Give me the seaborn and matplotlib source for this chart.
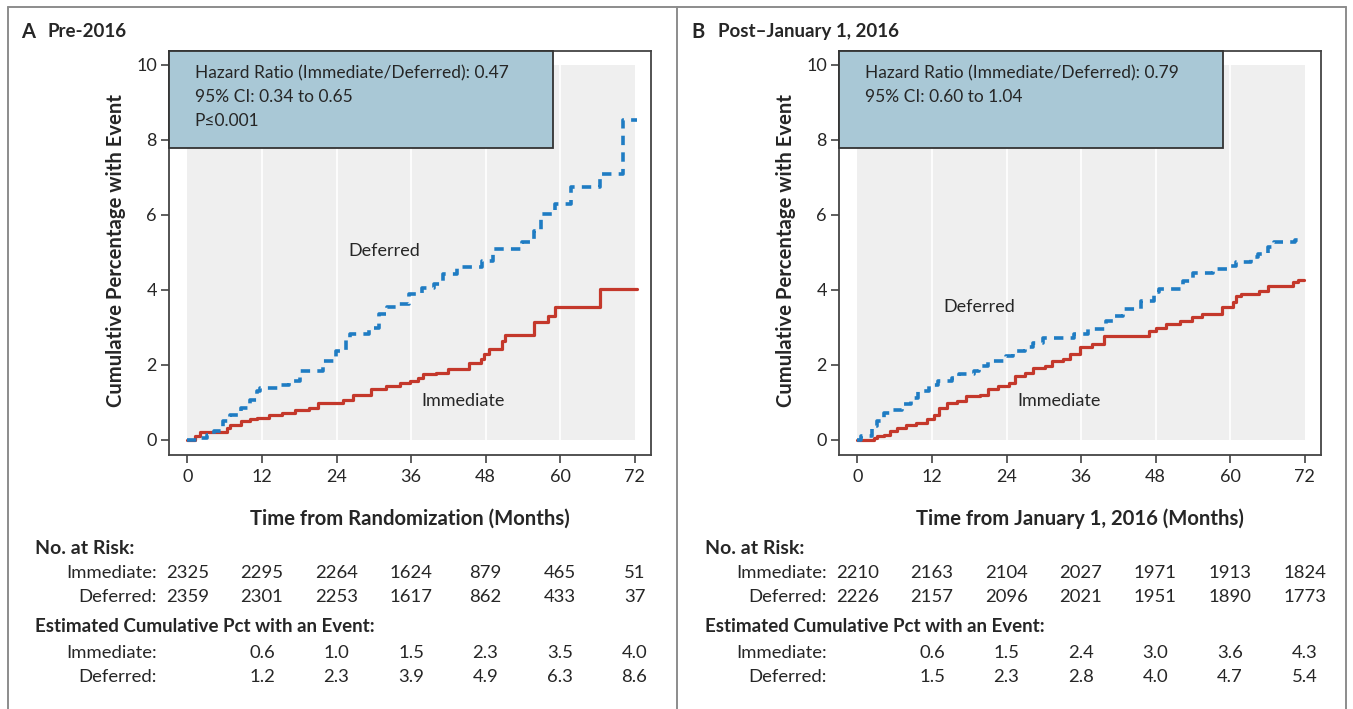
import numpy as np
import pandas as pd
import matplotlib
matplotlib.use("Agg")
import matplotlib.pyplot as plt
import seaborn as sns
from matplotlib.patches import Rectangle
from matplotlib.lines import Line2D
import matplotlib.transforms as mtrans

# ---------------- data ----------------
month_ticks = [0, 12, 24, 36, 48, 60, 72]

a_imm_t = [0, 1.2, 2.0, 6.3, 6.9, 8.6, 10.0, 11.2, 13.2, 15.2, 17.3, 19.5, 21.0, 25.0, 26.7,
           29.6, 31.9, 34.2, 35.9, 37.1, 38.0, 40.0, 42.0, 45.4, 47.2, 47.7, 48.6, 50.6, 51.2,
           55.8, 58.0, 59.2, 66.4, 72.4]
a_imm_v = [0, 0.1, 0.2, 0.3, 0.4, 0.5, 0.55, 0.58, 0.67, 0.71, 0.8, 0.85, 0.97, 1.07, 1.2,
           1.34, 1.43, 1.52, 1.56, 1.65, 1.74, 1.79, 1.88, 2.05, 2.14, 2.28, 2.41, 2.63, 2.79,
           3.13, 3.3, 3.53, 4.02, 4.02]

a_def_t = [0, 1.7, 3.2, 4.3, 5.75, 6.9, 8.6, 10.0, 11.2, 11.6, 14.9, 16.4, 18.1, 21.9, 23.9,
           25.6, 26.2, 29.3, 30.8, 32.2, 33.9, 35.7, 37.7, 39.7, 41.1, 43.4, 47.4, 49.2, 53.8,
           55.8, 56.9, 59.2, 61.8, 66.4, 70.2, 72.4]
a_def_v = [0, 0.05, 0.13, 0.22, 0.49, 0.67, 0.85, 1.07, 1.3, 1.38, 1.47, 1.56, 1.83, 2.1, 2.37,
           2.72, 2.81, 2.99, 3.35, 3.53, 3.62, 3.88, 4.06, 4.15, 4.42, 4.6, 4.78, 5.09, 5.27,
           5.58, 6.03, 6.29, 6.74, 7.1, 8.53, 8.53]

b_imm_t = [0, 2.6, 3.2, 4.3, 5.2, 6.3, 7.8, 9.5, 11.2, 12.4, 13.2, 14.4, 16.1, 17.5, 19.8,
           21.0, 22.7, 24.4, 25.3, 27.0, 28.2, 30.2, 31.3, 33.1, 34.2, 35.9, 37.7, 39.7, 46.9,
           48.0, 49.7, 52.0, 53.8, 55.5, 58.7, 60.4, 61.0, 61.8, 64.7, 66.1, 70.2, 71.0, 71.9]
b_imm_v = [0, 0.05, 0.09, 0.13, 0.22, 0.31, 0.4, 0.45, 0.54, 0.67, 0.85, 0.98, 1.03, 1.16, 1.2,
           1.34, 1.43, 1.52, 1.7, 1.79, 1.92, 1.96, 2.1, 2.14, 2.28, 2.46, 2.54, 2.77, 2.9,
           2.99, 3.08, 3.17, 3.26, 3.35, 3.53, 3.66, 3.84, 3.88, 3.97, 4.11, 4.2, 4.26, 4.26]

b_def_t = [0, 0.6, 2.3, 3.2, 4.3, 5.5, 7.2, 8.6, 9.8, 11.5, 12.9, 15.2, 16.4, 18.7, 19.5,
           21.0, 23.9, 25.0, 27.0, 28.2, 29.9, 34.8, 37.1, 40.0, 41.1, 42.8, 45.7, 47.7, 48.6,
           52.4, 54.1, 57.2, 60.1, 61.0, 63.3, 64.5, 66.1, 67.0, 70.5, 71.2]
b_def_v = [0, 0.09, 0.36, 0.49, 0.71, 0.8, 0.94, 1.12, 1.3, 1.47, 1.56, 1.65, 1.74, 1.83, 1.96,
           2.1, 2.23, 2.37, 2.46, 2.59, 2.72, 2.81, 2.95, 3.17, 3.3, 3.48, 3.71, 3.93, 4.02,
           4.24, 4.46, 4.55, 4.64, 4.73, 4.87, 4.96, 5.13, 5.27, 5.33, 5.33]

a_risk_imm = [2325, 2295, 2264, 1624, 879, 465, 51]
a_risk_def = [2359, 2301, 2253, 1617, 862, 433, 37]
a_pct_imm = ["0.6", "1.0", "1.5", "2.3", "3.5", "4.0"]
a_pct_def = ["1.2", "2.3", "3.9", "4.9", "6.3", "8.6"]

b_risk_imm = [2210, 2163, 2104, 2027, 1971, 1913, 1824]
b_risk_def = [2226, 2157, 2096, 2021, 1951, 1890, 1773]
b_pct_imm = ["0.6", "1.5", "2.4", "3.0", "3.6", "4.3"]
b_pct_def = ["1.5", "2.3", "2.8", "4.0", "4.7", "5.4"]

a_hr_lines = ["Hazard Ratio (Immediate/Deferred): 0.47", "95% CI: 0.34 to 0.65", "P\u22640.001"]
b_hr_lines = ["Hazard Ratio (Immediate/Deferred): 0.79", "95% CI: 0.60 to 1.04"]

a_title = ("A", "Pre-2016")
b_title = ("B", "Post\u2013January 1, 2016")
a_xlabel = "Time from Randomization (Months)"
b_xlabel = "Time from January 1, 2016 (Months)"
ylabel = "Cumulative Percentage with Event"

# ---------------- style ----------------
sns.set_theme(style="white")
plt.rcParams['font.family'] = ['Lato', 'DejaVu Sans']
TXT = '#262626'
BLUE = '#1f7cc3'
RED = '#c4382b'
W, H = 1353, 709
fig = plt.figure(figsize=(W / 100, H / 100), dpi=100)
fig.patch.set_facecolor('white')


def fx(px):
    return px / W


def fy(py):
    return 1 - py / H


FS_HR = 12.5
FS_TICK = 13
FS_LAB = 13
FS_TAB = 13.3
FS_AXLAB = 14.6
FS_HEAD = 14
FS_HEAD2 = 13.5

def panel(off, imm_t, imm_v, def_t, def_v, hr_lines, title, xlabel,
          risk_imm, risk_def, pct_imm, pct_def, def_lab, imm_lab):
    ax = fig.add_axes([fx(169.3 + off), fy(455), (650.7 - 169.3) / W, (455 - 50.7) / H])
    ax.set_xlim(-2.93, 74.6)
    ax.set_ylim(-0.41, 10.38)
    ax.set_facecolor('white')
    ax.add_patch(Rectangle((0, 0), 72, 10, facecolor='#efefef', edgecolor='none', zorder=0))
    ax.vlines(month_ticks[1:-1], 0, 10, color='white', lw=1.2, zorder=0.5)

    dfi = pd.DataFrame({'t': imm_t, 'v': imm_v})
    dfd = pd.DataFrame({'t': def_t, 'v': def_v})
    sns.lineplot(data=dfi, x='t', y='v', ax=ax, drawstyle='steps-post', color=RED,
                 lw=2.3, estimator=None, sort=False, zorder=3)
    sns.lineplot(data=dfd, x='t', y='v', ax=ax, drawstyle='steps-post', color=BLUE,
                 lw=2.6, estimator=None, sort=False, zorder=3,
                 linestyle=(0, (2.6, 2.0)), solid_capstyle='butt', dash_capstyle='butt')

    ax.set_xticks(month_ticks)
    ax.set_yticks([0, 2, 4, 6, 8, 10])
    ax.tick_params(direction='out', length=6, width=1.1, color='#333333',
                   labelsize=FS_TICK, labelcolor=TXT, bottom=True, left=True)
    ax.tick_params(axis='x', pad=4)
    ax.tick_params(axis='y', pad=3)
    for s in ax.spines.values():
        s.set_color('#444444')
        s.set_linewidth(1.3)

    ax.set_xlabel(xlabel, fontsize=FS_AXLAB, fontweight='bold', color=TXT, va='center')
    ax.xaxis.set_label_coords(0.5, (455 - 519) / 404.3)
    ax.set_ylabel(ylabel, fontsize=FS_AXLAB, fontweight='bold', color=TXT, va='center')
    ax.yaxis.set_label_coords((116 - 169.3) / 481.4, 0.507)

    # hazard ratio box
    x0, x1 = ax.get_xlim()
    y0, y1 = ax.get_ylim()
    ax.add_patch(Rectangle((x0, 7.79), 58.9 - x0, y1 - 7.79, facecolor='#a9c8d6',
                           edgecolor='#333333', lw=1.3, zorder=4, clip_on=False))
    for i, line in enumerate(hr_lines):
        ax.text(1.15, 9.78 - i * 0.64, line, fontsize=FS_HR, color=TXT, ha='left',
                va='center', zorder=5)

    ax.text(def_lab[0], def_lab[1], 'Deferred', fontsize=FS_LAB, color=TXT, ha='left', va='center', zorder=5)
    ax.text(imm_lab[0], imm_lab[1], 'Immediate', fontsize=FS_LAB, color=TXT, ha='left', va='center', zorder=5)

    # titles
    fig.text(fx(21.5 + off), fy(31.5), title[0], fontsize=14.5, fontweight='bold', color=TXT,
             ha='left', va='center')
    fig.text(fx(47.8 + off), fy(31.5), title[1], fontsize=13.5, fontweight='bold', color=TXT,
             ha='left', va='center')

    # tables
    tr = mtrans.blended_transform_factory(ax.transData, fig.transFigure)
    fig.text(fx(35 + off), fy(548), 'No. at Risk:', fontsize=FS_HEAD, fontweight='bold', color=TXT,
             ha='left', va='center')
    fig.text(fx(157 + off), fy(573), 'Immediate:', fontsize=FS_TAB, color=TXT, ha='right', va='center')
    fig.text(fx(157 + off), fy(597), 'Deferred:', fontsize=FS_TAB, color=TXT, ha='right', va='center')
    for m, a, b in zip(month_ticks, risk_imm, risk_def):
        fig.text(m, fy(573), str(a), transform=tr, fontsize=FS_TAB, color=TXT, ha='center', va='center')
        fig.text(m, fy(597), str(b), transform=tr, fontsize=FS_TAB, color=TXT, ha='center', va='center')
    fig.text(fx(35 + off), fy(627), 'Estimated Cumulative Pct with an Event:', fontsize=FS_HEAD2,
             fontweight='bold', color=TXT, ha='left', va='center')
    fig.text(fx(157 + off), fy(653), 'Immediate:', fontsize=FS_TAB, color=TXT, ha='right', va='center')
    fig.text(fx(157 + off), fy(677), 'Deferred:', fontsize=FS_TAB, color=TXT, ha='right', va='center')
    for m, a, b in zip(month_ticks[1:], pct_imm, pct_def):
        fig.text(m, fy(653), a, transform=tr, fontsize=FS_TAB, color=TXT, ha='center', va='center')
        fig.text(m, fy(677), b, transform=tr, fontsize=FS_TAB, color=TXT, ha='center', va='center')
    return ax


panel(0, a_imm_t, a_imm_v, a_def_t, a_def_v, a_hr_lines, a_title, a_xlabel,
      a_risk_imm, a_risk_def, a_pct_imm, a_pct_def, (25.9, 5.04), (37.7, 1.04))
panel(670, b_imm_t, b_imm_v, b_def_t, b_def_v, b_hr_lines, b_title, b_xlabel,
      b_risk_imm, b_risk_def, b_pct_imm, b_pct_def, (13.8, 3.54), (25.8, 1.04))

# outer frames
FR = '#8c8c8c'
for (xa, ya, xb, yb) in [(7.5, 7, 1346, 7), (7.5, 7, 7.5, 709), (677, 7, 677, 709),
                         (1346, 7, 1346, 709)]:
    fig.add_artist(Line2D([fx(xa), fx(xb)], [fy(ya), fy(yb)], color=FR, lw=1.4,
                          transform=fig.transFigure))

fig.savefig('out.png', dpi=100, facecolor='white')
